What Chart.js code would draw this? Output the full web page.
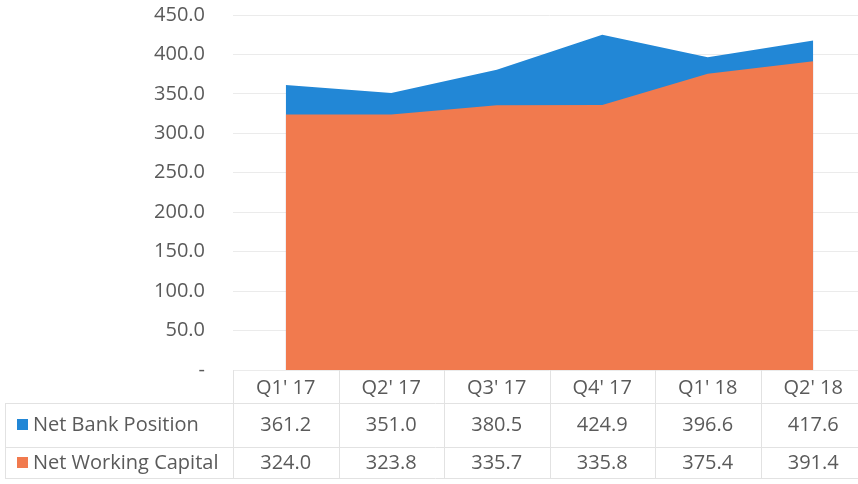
<!DOCTYPE html>
<html>
<head>
<meta charset="utf-8">
<script src="https://cdn.jsdelivr.net/npm/chart.js@4/dist/chart.umd.min.js"></script>
<style>
html,body{margin:0;padding:0;background:#fff;overflow:hidden;}
#wrap{width:866px;height:484px;}
</style>
</head>
<body>
<div id="wrap"><canvas id="c" width="866" height="484"></canvas></div>
<script>
const categories = ["Q1' 17", "Q2' 17", "Q3' 17", "Q4' 17", "Q1' 18", "Q2' 18"];
const netBankPosition = [361.2, 351.0, 380.5, 424.9, 396.6, 417.6];
const netWorkingCapital = [324.0, 323.8, 335.7, 335.8, 375.4, 391.4];
const seriesNames = ["Net Bank Position", "Net Working Capital"];
const yTicks = [0, 50, 100, 150, 200, 250, 300, 350, 400, 450];

const BLUE = '#2287D6';
const ORANGE = '#F17A4E';
const TEXT = '#5a5a5a';
const FONT = '"Open Sans", sans-serif';
const FS = 20;

const tablePlugin = {
  id: 'dataTable',
  afterDraw(chart) {
    const ctx = chart.ctx;
    const x = chart.scales.x;
    const area = chart.chartArea;
    const n = categories.length;
    const step = x.getPixelForValue(1) - x.getPixelForValue(0);
    const rowLines = [403, 447, 478];
    const rowText = [388, 425, 463];
    ctx.save();
    ctx.strokeStyle = '#e2e2e2';
    ctx.lineWidth = 1;
    rowLines.forEach(y => {
      ctx.beginPath();
      ctx.moveTo(5, y + 0.5);
      ctx.lineTo(chart.width, y + 0.5);
      ctx.stroke();
    });
    for (let i = 0; i <= n; i++) {
      const px = Math.round(x.getPixelForValue(i) - step / 2) + 0.5;
      ctx.beginPath();
      ctx.moveTo(px, area.bottom);
      ctx.lineTo(px, rowLines[2]);
      ctx.stroke();
    }
    ctx.beginPath();
    ctx.moveTo(5.5, rowLines[0]);
    ctx.lineTo(5.5, rowLines[2]);
    ctx.stroke();

    ctx.fillStyle = TEXT;
    ctx.font = FS + 'px ' + FONT;
    ctx.textAlign = 'center';
    ctx.textBaseline = 'middle';
    categories.forEach((c, i) => {
      const px = x.getPixelForValue(i);
      ctx.fillText(c, px, rowText[0]);
      ctx.fillText(netBankPosition[i].toFixed(1), px, rowText[1]);
      ctx.fillText(netWorkingCapital[i].toFixed(1), px, rowText[2]);
    });
    ctx.textAlign = 'left';
    ctx.fillStyle = BLUE;
    ctx.fillRect(17, rowText[1] - 6, 11, 11);
    ctx.fillStyle = ORANGE;
    ctx.fillRect(17, rowText[2] - 6, 11, 11);
    ctx.fillStyle = TEXT;
    ctx.fillText(seriesNames[0], 33, rowText[1]);
    ctx.fillText(seriesNames[1], 33, rowText[2]);
    ctx.restore();
  }
};

new Chart(document.getElementById('c'), {
  type: 'line',
  data: {
    labels: categories,
    datasets: [
      {
        label: seriesNames[1],
        data: netWorkingCapital,
        backgroundColor: ORANGE,
        borderColor: ORANGE,
        borderWidth: 0,
        pointRadius: 0,
        fill: 'origin',
        tension: 0,
        order: 0
      },
      {
        label: seriesNames[0],
        data: netBankPosition,
        backgroundColor: BLUE,
        borderColor: BLUE,
        borderWidth: 0,
        pointRadius: 0,
        fill: 'origin',
        tension: 0,
        order: 1
      }
    ]
  },
  options: {
    responsive: false,
    animation: false,
    layout: { padding: { top: 15, bottom: 114, left: 0, right: 0 } },
    plugins: { legend: { display: false }, tooltip: { enabled: false } },
    scales: {
      x: {
        type: 'category',
        offset: true,
        afterFit(s) { s.height = 0; s.paddingLeft = 0; s.paddingRight = 0; },
        grid: { display: false, drawTicks: false },
        border: { display: false },
        ticks: { display: false }
      },
      y: {
        min: 0,
        max: 450,
        afterFit(s) { s.width = 233; },
        afterBuildTicks(s) { s.ticks = yTicks.map(v => ({ value: v })); },
        grid: { color: '#ebebeb', drawTicks: true, tickLength: 28, tickColor: 'rgba(0,0,0,0)', lineWidth: 1 },
        border: { display: false },
        ticks: {
          padding: 0,
          color: TEXT,
          font: { family: FONT, size: FS },
          callback: v => v === 0 ? '-' : v.toFixed(1)
        }
      }
    }
  },
  plugins: [tablePlugin]
});
</script>
</body>
</html>
